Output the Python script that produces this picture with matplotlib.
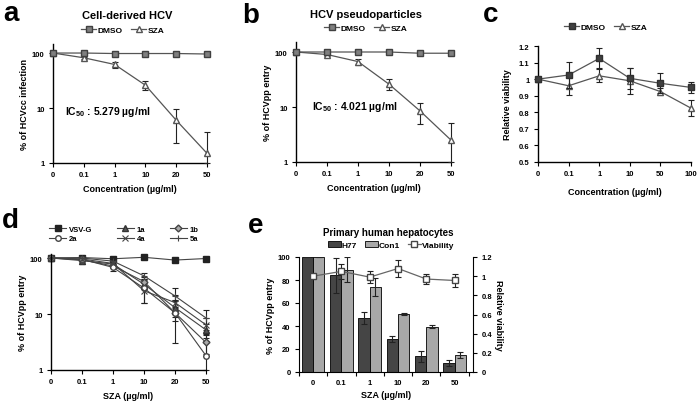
# Figure: SZA inhibits HCV entry (panels a-e)

import matplotlib
matplotlib.use('Agg')
import matplotlib.pyplot as plt
import numpy as np
from matplotlib.ticker import FixedLocator, NullLocator
from matplotlib.patches import Patch
from matplotlib.lines import Line2D

plt.rcParams['font.family'] = ['Liberation Sans', 'DejaVu Sans']
plt.rcParams['font.weight'] = 'bold'
plt.rcParams['axes.labelweight'] = 'bold'
plt.rcParams['mathtext.fontset'] = 'custom'
plt.rcParams['mathtext.rm'] = 'Liberation Sans:bold'
plt.rcParams['mathtext.default'] = 'rm'

# ============ DATA ============
conc_ab = ['0', '0.1', '1', '10', '20', '50']
conc_c = ['0', '0.1', '1', '10', '50', '100']

# a: cell-derived HCV
a_dmso = [100, 100, 98, 98, 98, 96]
a_sza = [100, 82, 62, 26, 6, 1.5]
a_sza_err = [0, 4, 8, 5, 3.7, 2.1]

# b: HCV pseudoparticles
b_dmso = [100, 100, 100, 100, 95, 95]
b_sza = [100, 90, 67, 26, 8.5, 2.5]
b_sza_err = [0, 4, 9, 6, 3.5, 2.7]

# c: viability
c_dmso = [1.0, 1.025, 1.125, 1.005, 0.975, 0.95]
c_dmso_err = [0, 0.08, 0.06, 0.065, 0.06, 0.035]
c_sza = [1.0, 0.96, 1.02, 0.99, 0.925, 0.825]
c_sza_err = [0, 0.055, 0.04, 0.08, 0.02, 0.05]

# d: genotypes
d_names = ['VSV-G', '1a', '1b', '2a', '4a', '5a']
d_vsvg = [100, 102, 97, 103, 92, 98]
d_1a = [100, 90, 78, 34, 13, 5.2]
d_1b = [100, 93, 72, 38, 10.5, 3.1]
d_2a = [100, 95, 68, 29, 10.5, 1.8]
d_4a = [100, 96, 80, 26, 16, 6.4]
d_5a = [100, 100, 88, 48, 21, 8.5]
d_vsvg_err = [0, 8, 4, 4, 4, 3]
d_1a_err = [0, 12, 8, 6, 4, 1.5]
d_1b_err = [0, 6, 7, 8, 3, 1.2]
d_2a_err = [0, 8, 10, 13, 7.5, 1.5]
d_4a_err = [0, 6, 8, 10, 6, 2]
d_5a_err = [0, 8, 8, 5, 8, 3.3]

# e: primary human hepatocytes
e_h77 = [100, 84, 47, 28.5, 13.5, 8]
e_h77_err = [0, 15, 5, 2.5, 5, 2.5]
e_con1 = [100, 89, 74, 50.5, 39.5, 15]
e_con1_err = [0, 11, 8, 1, 1.5, 2.5]
e_viab = [1.0, 1.05, 0.99, 1.08, 0.97, 0.955]
e_viab_err = [0, 0.08, 0.06, 0.09, 0.05, 0.07]

W, H = 700, 402
fig = plt.figure(figsize=(7, 4.02), dpi=100)


def box(left, top, right, bottom):
    """pixel box -> figure fraction rect"""
    return [left / W, 1 - bottom / H, (right - left) / W, (bottom - top) / H]


def px(x, y):
    return x / W, 1 - y / H


def log_err(vals, errs, floor=1.0):
    """на лог-оси нижний ус не может уйти ниже оси"""
    v = np.array(vals, float)
    e = np.array(errs, float)
    return [np.minimum(e, v - floor), e]


def style_axes(ax):
    ax.spines['top'].set_visible(False)
    ax.spines['right'].set_visible(False)
    for s in ['left', 'bottom']:
        ax.spines[s].set_linewidth(1.0)
    ax.tick_params(labelsize=5.5, length=3, width=0.8, pad=3)


def log_axis(ax, top):
    ax.set_yscale('log')
    ax.set_ylim(1, top)
    ax.yaxis.set_major_locator(FixedLocator([1, 10, 100]))
    ax.yaxis.set_minor_locator(NullLocator())
    ax.set_yticklabels(['1', '10', '100'])


def cat_axis(ax, labels):
    x = np.arange(len(labels))
    ax.set_xlim(0, len(labels) - 1)
    ax.set_xticks(x)
    ax.set_xticklabels(labels)
    return x


def small_legend(handles, labels, cx, cy, ncol=2, **kw):
    fig.legend(handles, labels, loc='center', bbox_to_anchor=px(cx, cy),
               ncol=ncol, frameon=False, fontsize=6, handlelength=1.8,
               handletextpad=0.2, columnspacing=1.0, borderpad=0, **kw)


LINE = '#555555'
sq_kw = dict(marker='s', ms=4.5, mfc='#7f7f7f', mec='#404040', color=LINE, lw=0.9)
tri_kw = dict(marker='^', ms=4.5, mfc='white', mec='#555555', color=LINE, lw=0.9)
err_kw = dict(ecolor='#222222', elinewidth=0.8, capsize=2, capthick=0.8)

# ============ PANEL a ============
ax = fig.add_axes(box(53, 45, 207, 164))
x = cat_axis(ax, conc_ab)
log_axis(ax, 146)
ax.plot(x, a_dmso, clip_on=False, zorder=4, **sq_kw)
ax.errorbar(x, a_sza, yerr=log_err(a_sza, a_sza_err), clip_on=False, zorder=3,
            **tri_kw, **err_kw)
style_axes(ax)
ax.set_xlabel('Concentration (µg/ml)', fontsize=6.5, labelpad=4)
ax.set_ylabel('% of HCVcc infection', fontsize=6.5, labelpad=2)
ax.text(0.08, 0.44, 'IC$_{50}$ : 5.279 µg/ml', transform=ax.transAxes,
        fontsize=7.5, va='center')
fig.text(*px(127, 16), 'Cell-derived HCV', fontsize=8, ha='center', va='center')
small_legend([Line2D([], [], **sq_kw), Line2D([], [], **tri_kw)], ['DMSO', 'SZA'], 123, 31)
fig.text(*px(3, 21), 'a', fontsize=20, fontweight='bold', va='baseline')

# ============ PANEL b ============
ax = fig.add_axes(box(296, 43, 451, 163))
x = cat_axis(ax, conc_ab)
log_axis(ax, 152)
ax.plot(x, b_dmso, clip_on=False, zorder=4, **sq_kw)
ax.errorbar(x, b_sza, yerr=log_err(b_sza, b_sza_err), clip_on=False, zorder=3,
            **tri_kw, **err_kw)
style_axes(ax)
ax.set_xlabel('Concentration (µg/ml)', fontsize=6.5, labelpad=4)
ax.set_ylabel('% of HCVpp entry', fontsize=6.5, labelpad=2)
ax.text(0.10, 0.47, 'IC$_{50}$ : 4.021 µg/ml', transform=ax.transAxes,
        fontsize=7.5, va='center')
fig.text(*px(366, 15), 'HCV pseudoparticles', fontsize=8, ha='center', va='center')
small_legend([Line2D([], [], **sq_kw), Line2D([], [], **tri_kw)], ['DMSO', 'SZA'], 366, 29)
fig.text(*px(242, 23), 'b', fontsize=20, fontweight='bold', va='baseline')

# ============ PANEL c ============
sq_dark = dict(sq_kw, mfc='#404040', mec='#303030')
ax = fig.add_axes(box(538, 47, 691, 163))
x = cat_axis(ax, conc_c)
ax.set_ylim(0.5, 1.2)
yt = [0.5, 0.6, 0.7, 0.8, 0.9, 1.0, 1.1, 1.2]
ax.set_yticks(yt)
ax.set_yticklabels(['0.5', '0.6', '0.7', '0.8', '0.9', '1', '1.1', '1.2'])
ax.errorbar(x, c_dmso, yerr=c_dmso_err, clip_on=False, zorder=4, **sq_dark, **err_kw)
ax.errorbar(x, c_sza, yerr=c_sza_err, clip_on=False, zorder=3, **tri_kw, **err_kw)
style_axes(ax)
ax.set_xlabel('Concentration (µg/ml)', fontsize=6.5, labelpad=7)
ax.set_ylabel('Relative viability', fontsize=6.5, labelpad=5)
small_legend([Line2D([], [], **sq_dark), Line2D([], [], **tri_kw)], ['DMSO', 'SZA'], 606, 28)
fig.text(*px(483, 22), 'c', fontsize=20, fontweight='bold', va='baseline')

# ============ PANEL d ============
d_vals = [d_vsvg, d_1a, d_1b, d_2a, d_4a, d_5a]
d_errs = [d_vsvg_err, d_1a_err, d_1b_err, d_2a_err, d_4a_err, d_5a_err]
d_styles = [
    dict(marker='s', ms=4, mfc='#222222', mec='#222222'),
    dict(marker='^', ms=4, mfc='#555555', mec='#333333'),
    dict(marker='D', ms=3.5, mfc='#aaaaaa', mec='#444444'),
    dict(marker='o', ms=4, mfc='white', mec='#444444'),
    dict(marker='x', ms=4.5, mec='#444444', mew=0.8),
    dict(marker='+', ms=5, mec='#444444', mew=0.8),
]
ax = fig.add_axes(box(51, 255, 206, 371))
x = cat_axis(ax, conc_ab)
log_axis(ax, 118)
handles = []
for vals, errs, st in zip(d_vals, d_errs, d_styles):
    ax.errorbar(x, vals, yerr=log_err(vals, errs), color='#444444', lw=0.8,
                clip_on=False, **st, **err_kw)
    handles.append(Line2D([], [], color='#444444', lw=0.8, **st))
style_axes(ax)
ax.set_xlabel('SZA (µg/ml)', fontsize=6.5, labelpad=4)
ax.set_ylabel('% of HCVpp entry', fontsize=6.5, labelpad=2)
# legend goes row by row: VSV-G 1a 1b / 2a 4a 5a
order = [0, 3, 1, 4, 2, 5]
fig.legend([handles[i] for i in order], [d_names[i] for i in order], loc='center',
           bbox_to_anchor=px(124, 235), ncol=3, frameon=False, fontsize=5.5,
           handlelength=2.2, handletextpad=0.4, columnspacing=3.2, borderpad=0,
           labelspacing=0.25)
fig.text(*px(2, 228), 'd', fontsize=20, fontweight='bold', va='baseline')

# ============ PANEL e ============
ax = fig.add_axes(box(299, 258, 473, 373))
x = np.arange(len(conc_ab))
bw = 0.4
ax.bar(x - bw / 2, e_h77, bw, yerr=e_h77_err, color='#454545', edgecolor='black',
       linewidth=0.6, error_kw=err_kw, zorder=2)
ax.bar(x + bw / 2, e_con1, bw, yerr=e_con1_err, color='#a8a8a8', edgecolor='black',
       linewidth=0.6, error_kw=err_kw, zorder=2)
ax.set_xlim(-0.5, 5.65)
ax.set_ylim(0, 100)
ax.set_yticks([0, 20, 40, 60, 80, 100])
ax.set_xticks(x)
ax.set_xticklabels(conc_ab)
ax.set_xticks(np.arange(-0.5, 5.6, 1), minor=True)
ax.spines['top'].set_visible(False)
ax.spines['right'].set_visible(False)
ax.tick_params(labelsize=5.5, width=0.8, pad=3)
ax.tick_params(axis='x', which='major', length=0, pad=5)
ax.tick_params(axis='x', which='minor', length=3, width=0.8)
ax.tick_params(axis='y', length=3)
ax.set_xlabel('SZA (µg/ml)', fontsize=6.5, labelpad=3)
ax.set_ylabel('% of HCVpp entry', fontsize=6.5, labelpad=2)

ax2 = ax.twinx()
ax2.set_ylim(0, 1.2)
ax2.set_yticks([0, 0.2, 0.4, 0.6, 0.8, 1.0, 1.2])
ax2.set_yticklabels(['0', '0.2', '0.4', '0.6', '0.8', '1', '1.2'])
viab_kw = dict(marker='s', ms=4.5, mfc='white', mec='#444444', color='#666666', lw=0.9)
ax2.errorbar(x, e_viab, yerr=e_viab_err, zorder=3, **viab_kw, **err_kw)
for s in ['top', 'left', 'bottom']:
    ax2.spines[s].set_visible(False)
ax2.tick_params(labelsize=5.5, length=3, width=0.8, pad=3)
ax2.set_ylabel('Relative viability', fontsize=6.5, rotation=-90, labelpad=8)

fig.text(*px(388, 233), 'Primary human hepatocytes', fontsize=7, ha='center', va='center')
fig.legend([Patch(facecolor='#454545', edgecolor='black', lw=0.6),
            Patch(facecolor='#a8a8a8', edgecolor='black', lw=0.6),
            Line2D([], [], **viab_kw)],
           ['H77', 'Con1', 'Viability'], loc='center', bbox_to_anchor=px(391, 246),
           ncol=3, frameon=False, fontsize=6, handlelength=1.6, handleheight=0.6,
           handletextpad=0.1, columnspacing=0.9, borderpad=0)
fig.text(*px(248, 233), 'e', fontsize=20, fontweight='bold', va='baseline')

plt.savefig('out.png', dpi=100)
